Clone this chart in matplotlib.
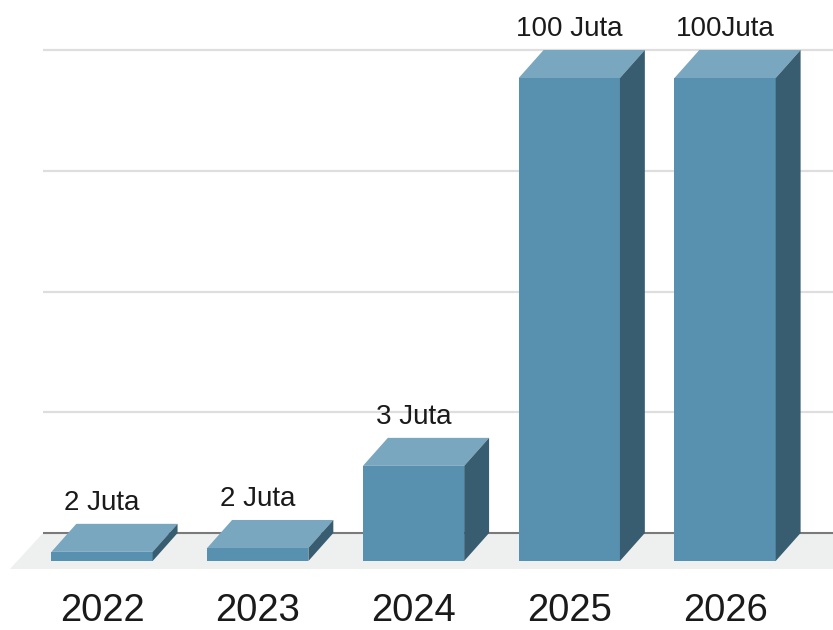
import numpy as np
import matplotlib
matplotlib.use("Agg")
import matplotlib.pyplot as plt
from matplotlib.patches import Polygon

# data (bar heights on the chart's own 0-100 scale)
years = ["2022", "2023", "2024", "2025", "2026"]
heights = [1.9, 2.7, 19.7, 100, 100]
value_labels = ["2 Juta", "2 Juta", "3 Juta", "100 Juta", "100Juta"]
grid_vals = [25, 50, 75, 100]

plt.rcParams['font.family'] = ['Liberation Sans', 'DejaVu Sans']

front_col = "#5891b0"
top_col = "#78a7bf"
side_col = "#385d70"

fig = plt.figure(figsize=(8.33, 6.3), dpi=100)
ax = fig.add_axes([0, 0, 1, 1])
ax.set_xlim(-0.655, 4.693)
ax.set_ylim(-20.08, 110.35)
ax.axis("off")

w = 0.65       # bar front width
ddx = 0.16     # depth offset in x
ddy = 5.8      # depth offset in y
x_left = -0.379
x_right = 5.0

# gridlines on the back wall
for g in grid_vals:
    ax.plot([x_left, x_right], [g, g], color="#dedede", lw=1.6, zorder=1,
            solid_capstyle="butt")

# floor
fdx, fdy = 0.212, 7.45
floor = Polygon([(x_left, 0), (x_right + 0.1, 0), (x_right + 0.1 - fdx, -fdy),
                 (x_left - fdx, -fdy)], closed=True, facecolor="#eef0f0",
                edgecolor="none", zorder=2)
ax.add_patch(floor)
ax.plot([x_left, x_right], [0, 0], color="#7a7a7a", lw=1.5, zorder=3,
        solid_capstyle="butt")

for i, (v, lab, yr) in enumerate(zip(heights, value_labels, years)):
    x0 = i - w / 2
    x1 = i + w / 2
    front = Polygon([(x0, -ddy), (x1, -ddy), (x1, v - ddy), (x0, v - ddy)],
                    closed=True, facecolor=front_col, edgecolor="none", zorder=5)
    top = Polygon([(x0, v - ddy), (x1, v - ddy), (x1 + ddx, v), (x0 + ddx, v)],
                  closed=True, facecolor=top_col, edgecolor="none", zorder=5)
    side = Polygon([(x1, -ddy), (x1 + ddx, 0), (x1 + ddx, v), (x1, v - ddy)],
                   closed=True, facecolor=side_col, edgecolor="none", zorder=5)
    for p in (front, top, side):
        ax.add_patch(p)
    ax.text(i, v + 4.3, lab, ha="center", va="center", fontsize=20,
            color="#1a1a1a", zorder=6)
    ax.text(i, -18.2, yr, ha="center", va="baseline", fontsize=27.5,
            color="#1a1a1a", zorder=6)

fig.savefig("out.png", dpi=100)
